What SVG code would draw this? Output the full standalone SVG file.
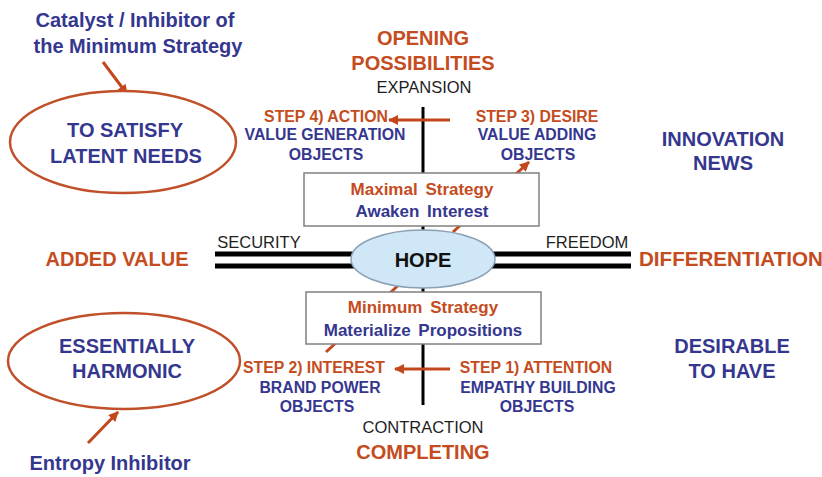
<svg xmlns="http://www.w3.org/2000/svg" width="822" height="477" viewBox="0 0 822 477">
<defs>
<marker id="ah" viewBox="0 0 10 10" refX="9" refY="5" markerWidth="11" markerHeight="10" markerUnits="userSpaceOnUse" orient="auto">
<path d="M0,0 L10,5 L0,10 Z" fill="#c2471c"/>
</marker>
<style>
text{font-family:"Liberation Sans",Arial,sans-serif;text-anchor:middle}
.b{font-weight:bold}
.blue{fill:#35378f;font-weight:bold}
.or{fill:#c44c1e;font-weight:bold}
.step{font-size:15.8px}
.big{font-size:20px}
.ax{font-size:16.5px;fill:#1e1e1e}
.con{stroke:#c2471c;stroke-width:3;fill:none}
.oval{fill:#fff;stroke:#c0502a;stroke-width:2.5}
.box{fill:#fff;stroke:#808080;stroke-width:1.5}
.bx{font-size:17px;word-spacing:3px}
</style>
</defs>
<rect width="822" height="477" fill="#fff"/>

<g id="axes">
<line x1="423" y1="107" x2="423" y2="405" stroke="#000" stroke-width="3"/>
<line x1="215" y1="254" x2="631" y2="254" stroke="#000" stroke-width="5"/>
<line x1="215" y1="266" x2="631" y2="266" stroke="#000" stroke-width="5"/>
</g>

<g id="connectors">
<line class="con" x1="450" y1="120" x2="389" y2="120" marker-end="url(#ah)"/>
<line class="con" x1="450" y1="369" x2="395" y2="369" marker-end="url(#ah)"/>
<line class="con" x1="453" y1="232" x2="529" y2="162" marker-end="url(#ah)"/>
<line class="con" x1="326" y1="352" x2="404" y2="280"/>
<line class="con" x1="103" y1="62" x2="127" y2="94" marker-end="url(#ah)"/>
<line class="con" x1="88" y1="443" x2="118" y2="412" marker-end="url(#ah)"/>
</g>

<g id="catalyst">
<text class="blue big" x="135" y="27">Catalyst / Inhibitor of</text>
<text class="blue big" x="138" y="53">the Minimum Strategy</text>
</g>

<g id="latent">
<ellipse class="oval" cx="123" cy="142" rx="113" ry="51"/>
<text class="blue big" x="125" y="137">TO SATISFY</text>
<text class="blue big" x="126" y="163">LATENT NEEDS</text>
</g>

<g id="harmonic">
<ellipse class="oval" cx="124" cy="361" rx="116" ry="48"/>
<text class="blue big" x="127" y="353">ESSENTIALLY</text>
<text class="blue big" x="127" y="378">HARMONIC</text>
</g>

<g id="entropy">
<text class="blue big" x="110" y="470">Entropy Inhibitor</text>
</g>

<g id="opening">
<text class="or big" x="423" y="45">OPENING</text>
<text class="or big" x="423" y="70">POSSIBILITIES</text>
<text class="ax" x="424" y="93">EXPANSION</text>
</g>

<g id="completing">
<text class="ax" x="423" y="433">CONTRACTION</text>
<text class="or big" x="423" y="459">COMPLETING</text>
</g>

<g id="step4">
<text class="or step" x="326" y="122">STEP 4) ACTION</text>
<text class="blue step" x="325" y="140">VALUE GENERATION</text>
<text class="blue step" x="326" y="160">OBJECTS</text>
</g>

<g id="step3">
<text class="or step" x="537" y="122">STEP 3) DESIRE</text>
<text class="blue step" x="537" y="140">VALUE ADDING</text>
<text class="blue step" x="538" y="160">OBJECTS</text>
</g>

<g id="step2">
<text class="or step" x="314" y="373">STEP 2) INTEREST</text>
<text class="blue step" x="320" y="393">BRAND POWER</text>
<text class="blue step" x="317" y="412">OBJECTS</text>
</g>

<g id="step1">
<text class="or step" x="536" y="373">STEP 1) ATTENTION</text>
<text class="blue step" x="538" y="393">EMPATHY BUILDING</text>
<text class="blue step" x="537" y="412">OBJECTS</text>
</g>

<g id="maximal">
<rect class="box" x="304" y="173" width="235" height="53"/>
<text class="or bx" x="422" y="195">Maximal Strategy</text>
<text class="blue bx" x="422" y="217">Awaken Interest</text>
</g>

<g id="minimum">
<rect class="box" x="306" y="292" width="235" height="52"/>
<text class="or bx" x="423" y="313">Minimum Strategy</text>
<text class="blue bx" x="423" y="336">Materialize Propositions</text>
</g>

<g id="hope">
<ellipse cx="423" cy="259" rx="72" ry="29" fill="#cfe7f6" stroke="#8aa0b4" stroke-width="1.5"/>
<text class="b" x="423" y="267" font-size="20" fill="#111">HOPE</text>
</g>

<g id="security"><text class="ax" x="259" y="248">SECURITY</text></g>
<g id="freedom"><text class="ax" x="587" y="248">FREEDOM</text></g>

<g id="added"><text class="or big" x="117" y="266">ADDED VALUE</text></g>
<g id="diff"><text class="or" x="639" y="266" font-size="20.6" style="text-anchor:start">DIFFERENTIATION</text></g>

<g id="innovation">
<text class="blue big" x="723" y="146">INNOVATION</text>
<text class="blue big" x="723" y="170">NEWS</text>
</g>

<g id="desirable">
<text class="blue big" x="732" y="353">DESIRABLE</text>
<text class="blue big" x="732" y="378">TO HAVE</text>
</g>
</svg>
